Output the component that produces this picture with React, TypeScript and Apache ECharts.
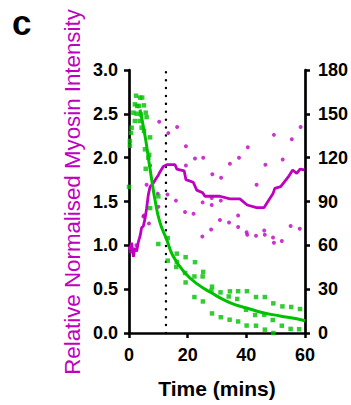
import React, { useEffect, useRef } from "react";
import * as echarts from "echarts";

const MAGENTA = "#c000c0";
const GREEN = "#00c000";
const FONT = "'Liberation Sans', Arial, Helvetica, sans-serif";

// x ticks
const xTicks = [0, 20, 40, 60];
const leftTicks = ["0.0", "0.5", "1.0", "1.5", "2.0", "2.5", "3.0"];
const rightTicks = [0, 30, 60, 90, 120, 150, 180];

// Magenta mean myosin intensity line [time, relative intensity]
const myosinMean: number[][] = [
  [0, 0.99], [0.3, 0.95], [0.85, 1.03], [1.5, 0.87], [2.0, 0.97], [2.6, 0.93],
  [3.2, 1.04], [3.8, 1.11], [4.3, 1.2], [4.9, 1.22], [5.5, 1.31], [6.0, 1.42],
  [6.6, 1.58], [7.2, 1.67], [8.3, 1.71], [9.4, 1.77], [10.0, 1.8], [10.6, 1.84],
  [11.7, 1.9], [12.9, 1.92], [15.7, 1.92], [16.3, 1.87], [18.8, 1.85], [19.4, 1.75],
  [21.9, 1.72], [23.1, 1.63], [25.1, 1.6], [25.9, 1.56], [28.2, 1.56], [31.0, 1.56],
  [34.4, 1.53], [37.8, 1.53], [40.3, 1.46], [43.5, 1.43], [46.0, 1.43], [49.1, 1.59],
  [49.7, 1.65], [51.7, 1.67], [54.3, 1.78], [55.8, 1.86], [57.2, 1.82], [58.3, 1.87],
  [59.8, 1.86],
];

// Magenta individual points [time, relative intensity]
const myosinPoints: number[][] = [
  [0.5, 0.93], [1.5, 0.95], [2.5, 1.0],
  [4.9, 1.33], [5.1, 1.34], [6.0, 1.69], [6.8, 1.25], [7.2, 1.91],
  [9.8, 1.59], [10.0, 1.44], [10.3, 2.41],
  [13.1, 1.58], [13.4, 2.28],
  [16.0, 1.51], [16.4, 2.35],
  [19.1, 1.38], [19.4, 2.13], [19.4, 1.91],
  [22.0, 1.36], [22.5, 1.99],
  [25.0, 1.1], [25.1, 1.49], [25.3, 2.0],
  [28.0, 1.18], [28.2, 1.54], [28.2, 1.46], [28.4, 1.81],
  [31.0, 1.29], [31.3, 1.51], [31.4, 1.77],
  [34.1, 1.26], [34.4, 1.93],
  [37.2, 1.34], [37.2, 1.21], [37.5, 2.0],
  [40.1, 1.15], [40.3, 1.12], [40.5, 2.12],
  [43.3, 1.11], [43.5, 1.69],
  [46.1, 1.17], [46.3, 1.12], [46.5, 1.92],
  [49.1, 1.09], [49.4, 1.03], [49.4, 2.26],
  [52.1, 1.05], [52.4, 1.98],
  [55.1, 1.22], [55.5, 2.21],
  [58.2, 1.19], [58.5, 2.35],
];

// Green individual points [time, right-axis value]
const greenPoints: number[][] = [
  [0, 100], [0.3, 131.4], [0.3, 128.2], [0.7, 137], [0.9, 140.5], [1.5, 150.8],
  [2.0, 156.5], [2.0, 145.1], [2.4, 162.4], [2.6, 150.1], [2.8, 155.4],
  [3.4, 155.4], [3.6, 145.1], [3.75, 161.1], [4.0, 149.6], [4.3, 140.5], [4.5, 161.1],
  [5.1, 155.8], [5.1, 138.3], [5.45, 125.7], [5.7, 150.8], [5.7, 112.4], [6.0, 147.8],
  [6.6, 120], [6.9, 122], [7.2, 133.9], [7.2, 85.5],
  [10.0, 93.5], [10.0, 60.9],
  [13.2, 65], [13.2, 49.5],
  [16.3, 54.3], [16.3, 48.6], [16.1, 45.2],
  [19.3, 51.9], [19.1, 41.1], [19.3, 34.6],
  [22.5, 48.5], [22.3, 38.7], [22.3, 24.6],
  [25.3, 41.8], [25.1, 38.7], [25.2, 21.6],
  [28.3, 31.7], [28.1, 29.0], [28.3, 13.4],
  [31.2, 27.8], [31.3, 10.8],
  [34.4, 28.5], [34.0, 25.0], [34.3, 9.1],
  [37.2, 28.6], [36.9, 23.3], [37.2, 7.9],
  [40.2, 28.6], [39.9, 15.9], [40.1, 5.1],
  [43.3, 24.6], [43.0, 12.3], [43.3, 5.0],
  [46.3, 24.6], [46.1, 12.5], [46.3, 2.3],
  [49.2, 20.3], [49.0, 8.9], [49.2, 0],
  [52.3, 18.2], [52.1, 5.0],
  [55.3, 17.8], [55.1, 2.8],
  [58.3, 16.4], [58.0, 2.6],
];

// Green fitted curve [time, right-axis value]
const greenFit: number[][] = [
  [3.75, 152.9], [5.46, 135], [6.6, 120], [7.74, 104.9], [8.86, 91.2], [10.57, 75.5],
  [12.85, 63.9], [15.1, 52.3], [19.1, 41.1], [23.6, 33.1], [28.2, 27.4], [32.7, 22.3],
  [36.1, 19.4], [40.1, 17.1], [45.7, 13.9], [51.5, 11.7], [57.2, 9.8], [60, 8.4],
];

// Vertical dotted marker time
const markerTime = [12.6];

const axisLine = { show: true, lineStyle: { color: "#000", width: 2.7 } };
const axisTick = { show: true, length: 5, lineStyle: { color: "#000", width: 2.5 } };
const labelStyle = { color: "#000", fontFamily: FONT, fontWeight: "bold" as const, fontSize: 18 };

export default function App() {
  const ref = useRef<HTMLDivElement>(null);
  useEffect(() => {
    if (!ref.current) return;
    const chart = echarts.init(ref.current, undefined, { renderer: "svg" });
    chart.setOption({
      animation: false,
      backgroundColor: "#fff",
      grid: { left: 129, right: 46, top: 70, bottom: 72, outerBoundsMode: "none", containLabel: false },
      xAxis: {
        type: "value",
        min: xTicks[0],
        max: xTicks[xTicks.length - 1],
        interval: 20,
        axisLine,
        axisTick,
        splitLine: { show: false },
        axisLabel: { ...labelStyle, margin: 13 },
        name: "Time (mins)",
        nameLocation: "middle",
        nameGap: 45,
        nameTextStyle: { color: "#000", fontFamily: FONT, fontWeight: "bold", fontSize: 21 },
      },
      yAxis: [
        {
          type: "value",
          min: 0,
          max: 3,
          interval: 0.5,
          axisLine,
          axisTick,
          splitLine: { show: false },
          axisLabel: { ...labelStyle, margin: 11, formatter: (v: number) => leftTicks[Math.round(v * 2)] ?? "" },
        },
        {
          type: "value",
          min: rightTicks[0],
          max: rightTicks[rightTicks.length - 1],
          interval: 30,
          position: "right",
          axisLine,
          axisTick,
          splitLine: { show: false },
          axisLabel: { ...labelStyle, margin: 13 },
        },
      ],
      graphic: [
        {
          type: "text",
          x: 12,
          y: 5,
          style: { text: "c", fontFamily: FONT, fontWeight: "bold", fontSize: 35, fill: "#000" },
        },
        {
          type: "text",
          x: 72.5,
          y: 192,
          rotation: Math.PI / 2,
          style: {
            text: "Relative Normalised Myosin Intensity",
            fontFamily: FONT,
            fontSize: 22.3,
            fill: MAGENTA,
            align: "center",
            verticalAlign: "middle",
          },
        },
      ],
      series: [
        {
          type: "line",
          yAxisIndex: 0,
          data: [[markerTime[0], 0], [markerTime[0], 3]],
          showSymbol: false,
          symbol: "none",
          lineStyle: { color: "#000", width: 2.4, type: [0.1, 7.8], cap: "round" },
          z: 1,
        },
        {
          type: "scatter",
          yAxisIndex: 0,
          data: myosinPoints,
          symbol: "circle",
          symbolSize: 4,
          itemStyle: { color: MAGENTA },
          z: 2,
        },
        {
          type: "line",
          yAxisIndex: 0,
          data: myosinMean,
          showSymbol: false,
          symbol: "none",
          lineStyle: { color: MAGENTA, width: 2.8 },
          z: 3,
        },
        {
          type: "scatter",
          yAxisIndex: 1,
          data: greenPoints,
          symbol: "rect",
          symbolSize: 4.5,
          itemStyle: { color: GREEN },
          z: 4,
        },
        {
          type: "line",
          yAxisIndex: 1,
          data: greenFit,
          smooth: true,
          showSymbol: false,
          symbol: "none",
          lineStyle: { color: GREEN, width: 3 },
          z: 5,
        },
      ],
    });
    return () => chart.dispose();
  }, []);
  return <div ref={ref} style={{ position: "fixed", left: 0, top: 0, width: 351, height: 405 }} />;
}
